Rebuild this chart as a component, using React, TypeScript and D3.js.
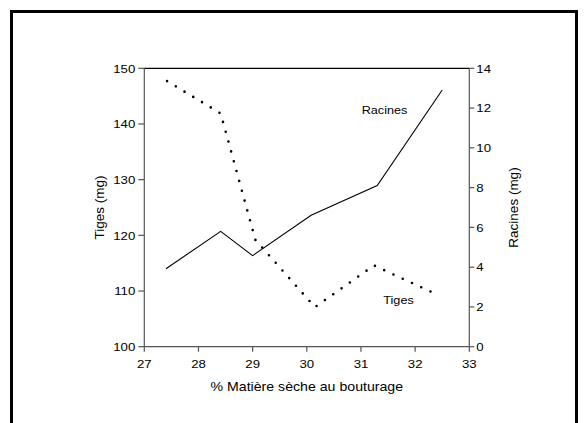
import React from "react";
import * as d3 from "d3";

// ---- Data ----
const racinesX = [27.4, 28.41, 29.0, 30.08, 31.3, 32.5];
const racinesY = [3.92, 5.8, 4.58, 6.61, 8.1, 12.91];
const tigesX = [27.42, 28.41, 29.05, 30.15, 31.24, 32.44];
const tigesY = [147.7, 141.9, 119.2, 107.1, 114.6, 109.2];
const xTicks = [27, 28, 29, 30, 31, 32, 33];
const leftTicks = [100, 110, 120, 130, 140, 150];
const rightTicks = [0, 2, 4, 6, 8, 10, 12, 14];
const xTitle = "% Matière sèche au bouturage";
const leftTitle = "Tiges (mg)";
const rightTitle = "Racines (mg)";
const labelRacines = "Racines";
const labelTiges = "Tiges";

const W = 584;
const H = 423;
const L = 144.3, R = 469.3, T = 68.3, B = 346.7;
const FONT = "'Liberation Sans', Arial, Helvetica, sans-serif";
const SX = 1.15;

const x = d3.scaleLinear().domain([27, 33]).range([L, R]);
const yL = d3.scaleLinear().domain([100, 150]).range([B, T]);
const yR = d3.scaleLinear().domain([0, 14]).range([B, T]);

function Txt({ x, y, anchor = "start", size = 11.5, children }: any) {
  return (
    <text
      transform={`translate(${x},${y}) scale(${SX},1)`}
      textAnchor={anchor}
      fontSize={size}
      fontFamily={FONT}
      fill="#000"
    >
      {children}
    </text>
  );
}

export default function App() {
  const racPath = d3
    .line<number>()
    .x((_, i) => x(racinesX[i]))
    .y((d) => yR(d))(racinesY) as string;
  const tigPath = d3
    .line<number>()
    .x((_, i) => x(tigesX[i]))
    .y((d) => yL(d))(tigesY) as string;
  const axisColor = "#555";
  return (
    <svg
      width={W}
      height={H}
      style={{ position: "absolute", left: 0, top: 0, background: "#fff" }}
    >
      <rect x={0} y={0} width={W} height={H} fill="#fff" />
      {/* frame */}
      <path
        d={`M11.5,${H} L11.5,11.5 L576.5,11.5 L576.5,${H}`}
        fill="none"
        stroke="#000"
        strokeWidth={3}
      />

      {/* axes */}
      <line x1={L} y1={T} x2={R} y2={T} stroke="#000" strokeWidth={1.3} />
      <line x1={L} y1={B} x2={R} y2={B} stroke={axisColor} strokeWidth={1.2} />
      <line x1={L} y1={T} x2={L} y2={B} stroke={axisColor} strokeWidth={1.2} />
      <line x1={R} y1={T} x2={R} y2={B} stroke={axisColor} strokeWidth={1.2} />

      {xTicks.map((t) => (
        <g key={"x" + t}>
          <line x1={x(t)} x2={x(t)} y1={B} y2={B + 5} stroke={axisColor} strokeWidth={1.2} />
          <Txt x={x(t)} y={B + 21} anchor="middle">{t}</Txt>
        </g>
      ))}
      {leftTicks.map((t) => (
        <g key={"l" + t}>
          <line x1={L - 6} x2={L} y1={yL(t)} y2={yL(t)} stroke={axisColor} strokeWidth={1.2} />
          <Txt x={L - 9} y={yL(t) + 4.2} anchor="end">{t}</Txt>
        </g>
      ))}
      {rightTicks.map((t) => (
        <g key={"r" + t}>
          <line x1={R} x2={R + 5} y1={yR(t)} y2={yR(t)} stroke={axisColor} strokeWidth={1.2} />
          <Txt x={R + 7} y={yR(t) + 4.2} anchor="start">{t}</Txt>
        </g>
      ))}

      {/* titles */}
      <Txt x={(L + R) / 2} y={391} anchor="middle" size={12.3}>{xTitle}</Txt>
      <text
        transform={`translate(104,${(T + B) / 2}) rotate(-90)`}
        textAnchor="middle"
        fontSize={13.5}
        fontFamily={FONT}
      >
        {leftTitle}
      </text>
      <text
        transform={`translate(518,${(T + B) / 2}) rotate(-90)`}
        textAnchor="middle"
        fontSize={13.5}
        fontFamily={FONT}
      >
        {rightTitle}
      </text>

      {/* series */}
      <path d={racPath} fill="none" stroke="#000" strokeWidth={1.1} />
      <path
        d={tigPath}
        fill="none"
        stroke="#000"
        strokeWidth={2.6}
        strokeLinecap="round"
        strokeDasharray="0 10.2"
      />

      {/* inline labels */}
      <Txt x={361.7} y={114.3} size={11}>{labelRacines}</Txt>
      <Txt x={383.3} y={304} size={11}>{labelTiges}</Txt>
    </svg>
  );
}
